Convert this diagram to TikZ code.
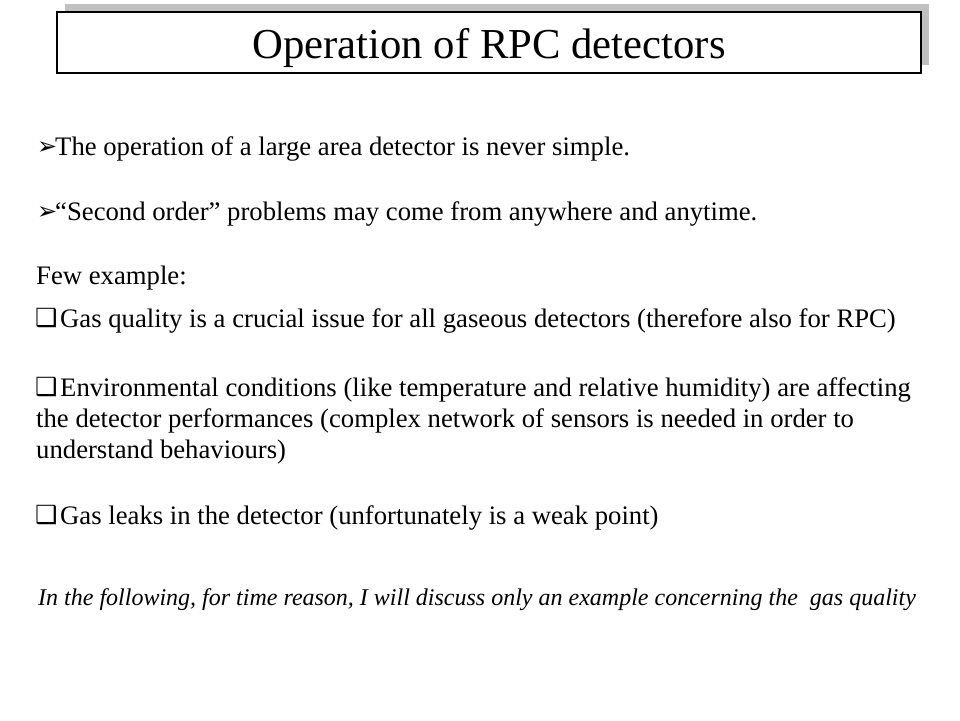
\documentclass[tikz,border=0pt]{standalone}
\usepackage{fontspec}
\setmainfont{Liberation Serif}
\newfontfamily\symfont{DejaVu Sans}
\tikzset{
  txt/.style={anchor=base west, inner sep=0pt, font=\fontsize{26.7}{31}\selectfont},
  ital/.style={anchor=base west, inner sep=0pt, font=\fontsize{24}{28}\selectfont\itshape},
  arrbul/.style={anchor=base west, inner sep=0pt, font=\fontsize{24}{26}\symfont},
  sqbul/.style={anchor=base west, inner sep=0pt, font=\fontsize{25}{27}\symfont},
  ttl/.style={anchor=base, font=\fontsize{42.7}{48}\selectfont, inner sep=0pt}
}
\begin{document}
\begin{tikzpicture}[x=1pt,y=-1pt]
\useasboundingbox (0,0) rectangle (960,720);
% title box with shadow
\fill[fill={rgb,255:red,192;green,192;blue,192}] (65,4) rectangle (929,65);
\draw[line width=1.3pt, fill=white] (57,12) rectangle (921,73);
\node[ttl] (title) at (489,58) {Operation of RPC detectors};
% bullets
\node[arrbul] (b1) at (37,154) {➢};
\node[txt] (t1) at (55,155) {The operation of a large area detector is never simple.};
\node[arrbul] (b2) at (37,219) {➢};
\node[txt] (t2) at (55,220) {“Second order” problems may come from anywhere and anytime.};
\node[txt] (t3) at (36,284) {Few example:};
\node[sqbul] (b3) at (35,326) {❑};
\node[txt] (t4) at (60,327) {Gas quality is a crucial issue for all gaseous detectors (therefore also for RPC)};
\node[sqbul] (b4) at (35,395) {❑};
\node[txt] (t5) at (60,396) {Environmental conditions (like temperature and relative humidity) are affecting};
\node[txt] (t6) at (36,427) {the detector performances (complex network of sensors is needed in order to};
\node[txt] (t7) at (36,458) {understand behaviours)};
\node[sqbul] (b5) at (35,523) {❑};
\node[txt] (t8) at (60,524) {Gas leaks in the detector (unfortunately is a weak point)};
\node[ital] (t9) at (38,605) {In the following, for time reason, I will discuss only an example concerning the\ \ gas quality};
\end{tikzpicture}
\end{document}
